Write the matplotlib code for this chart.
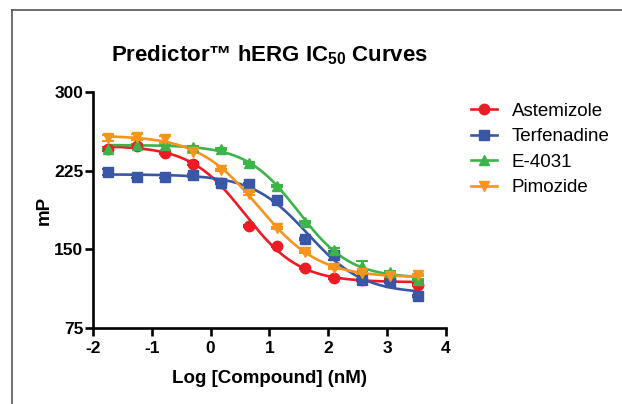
import numpy as np
import matplotlib
matplotlib.use("Agg")
import matplotlib.pyplot as plt
from matplotlib.lines import Line2D

plt.rcParams['font.family'] = ['Liberation Sans', 'DejaVu Sans']
plt.rcParams['mathtext.fontset'] = 'custom'
plt.rcParams['mathtext.rm'] = 'Liberation Sans:bold'
plt.rcParams['mathtext.bf'] = 'Liberation Sans:bold'
plt.rcParams['axes.unicode_minus'] = False

log_conc = [-1.74, -1.26, -0.78, -0.30, 0.18, 0.66, 1.13, 1.61, 2.09, 2.57, 3.05, 3.52]

astemizole = [245.9, 248.4, 242.0, 231.8, 213.4, 172.0, 153.5, 131.8, 122.3, 121.0, 121.0, 116.2]
terfenadine = [223.9, 219.4, 219.4, 220.4, 213.1, 212.4, 196.8, 159.9, 144.3, 121.0, 118.5, 105.7]
e4031 = [245.9, 249.0, 249.7, 247.5, 245.9, 232.5, 210.8, 175.8, 149.7, 133.8, 128.0, 121.0]
pimozide = [256.4, 257.3, 254.8, 242.7, 225.5, 203.2, 170.1, 147.1, 132.2, 127.4, 124.2, 125.8]

astemizole_err = [2, 1, 1, 1, 1, 1, 1, 1, 1, 1, 1, 1]
terfenadine_err = [3, 1, 1, 1, 1, 1, 1, 1, 4, 1, 1, 1]
e4031_err = [1, 1, 1, 1, 1, 1, 1, 1, 2, 5, 1, 1]
pimozide_err = [3, 3, 3, 1, 1, 1, 1, 1, 1, 1, 1, 1]

names = ["Astemizole", "Terfenadine", "E-4031", "Pimozide"]
colors = ["#ED1C24", "#3A56A6", "#3CB44A", "#F7941D"]
markers = ["o", "s", "^", "v"]


def fit_4pl(x, y):
    x = np.asarray(x, float)
    y = np.asarray(y, float)
    best = None
    for c in np.arange(-1.0, 3.0, 0.01):
        for h in np.arange(0.4, 3.0, 0.02):
            f = 1.0 / (1.0 + 10 ** (h * (x - c)))
            A = np.column_stack([np.ones_like(f), f])
            coef, *_ = np.linalg.lstsq(A, y, rcond=None)
            sse = np.sum((A @ coef - y) ** 2)
            if best is None or sse < best[0]:
                best = (sse, coef[0], coef[1], c, h)
    _, bottom, span, c, h = best
    return lambda xx: bottom + span / (1.0 + 10 ** (h * (xx - c)))


fig = plt.figure(figsize=(6.22, 4.04), dpi=100)
ax = fig.add_axes([93 / 622, 1 - 328 / 404, (446 - 93) / 622, (328 - 92) / 404])

series = [astemizole, terfenadine, e4031, pimozide]
errs = [astemizole_err, terfenadine_err, e4031_err, pimozide_err]
handles = []
for name, ys, es, col, mk in zip(names, series, errs, colors, markers):
    model = fit_4pl(log_conc, ys)
    xx = np.linspace(log_conc[0], log_conc[-1], 300)
    ax.plot(xx, model(xx), color=col, lw=1.9, zorder=2)
    ax.errorbar(log_conc, ys, yerr=es, fmt=mk, color=col, ms=7.5,
                capsize=4, elinewidth=1.5, capthick=1.5, zorder=3)
    handles.append(Line2D([0], [0], color=col, lw=1.9, marker=mk, ms=7.5))

ax.set_xlim(-2, 4)
ax.set_ylim(75, 300)
ax.set_xticks([-2, -1, 0, 1, 2, 3, 4])
ax.set_yticks([75, 150, 225, 300])
for s in ["top", "right"]:
    ax.spines[s].set_visible(False)
for s in ["left", "bottom"]:
    ax.spines[s].set_linewidth(1.9)
ax.tick_params(direction="out", length=5.5, width=1.9, labelsize=12.5)
ax.tick_params(axis="x", pad=4)
ax.tick_params(axis="y", pad=1.5)
for lab in ax.get_xticklabels() + ax.get_yticklabels():
    lab.set_fontweight("bold")

ax.set_xlabel("Log [Compound] (nM)", fontsize=13.5, fontweight="bold", labelpad=10)
ax.set_ylabel("mP", fontsize=13.5, fontweight="bold", labelpad=1)
ax.set_title(r"Predictor™ hERG IC$_{\mathbf{50}}$ Curves", fontsize=16,
             fontweight="bold", pad=22)

fig.legend(handles, names, loc="upper left", bbox_to_anchor=(454 / 622, 1 - 86 / 404),
           frameon=False, fontsize=13.5, handlelength=1.39, labelspacing=0.44,
           handletextpad=0.8, borderpad=0.4)

# figure frame (top and left edges)
fig.add_artist(Line2D([12 / 622, 12 / 622], [0, 1 - 10 / 404], transform=fig.transFigure,
                      color="#555555", lw=1.2))
fig.add_artist(Line2D([12 / 622, 1], [1 - 10 / 404, 1 - 10 / 404], transform=fig.transFigure,
                      color="#555555", lw=1.2))

fig.savefig("out.png", dpi=100)
